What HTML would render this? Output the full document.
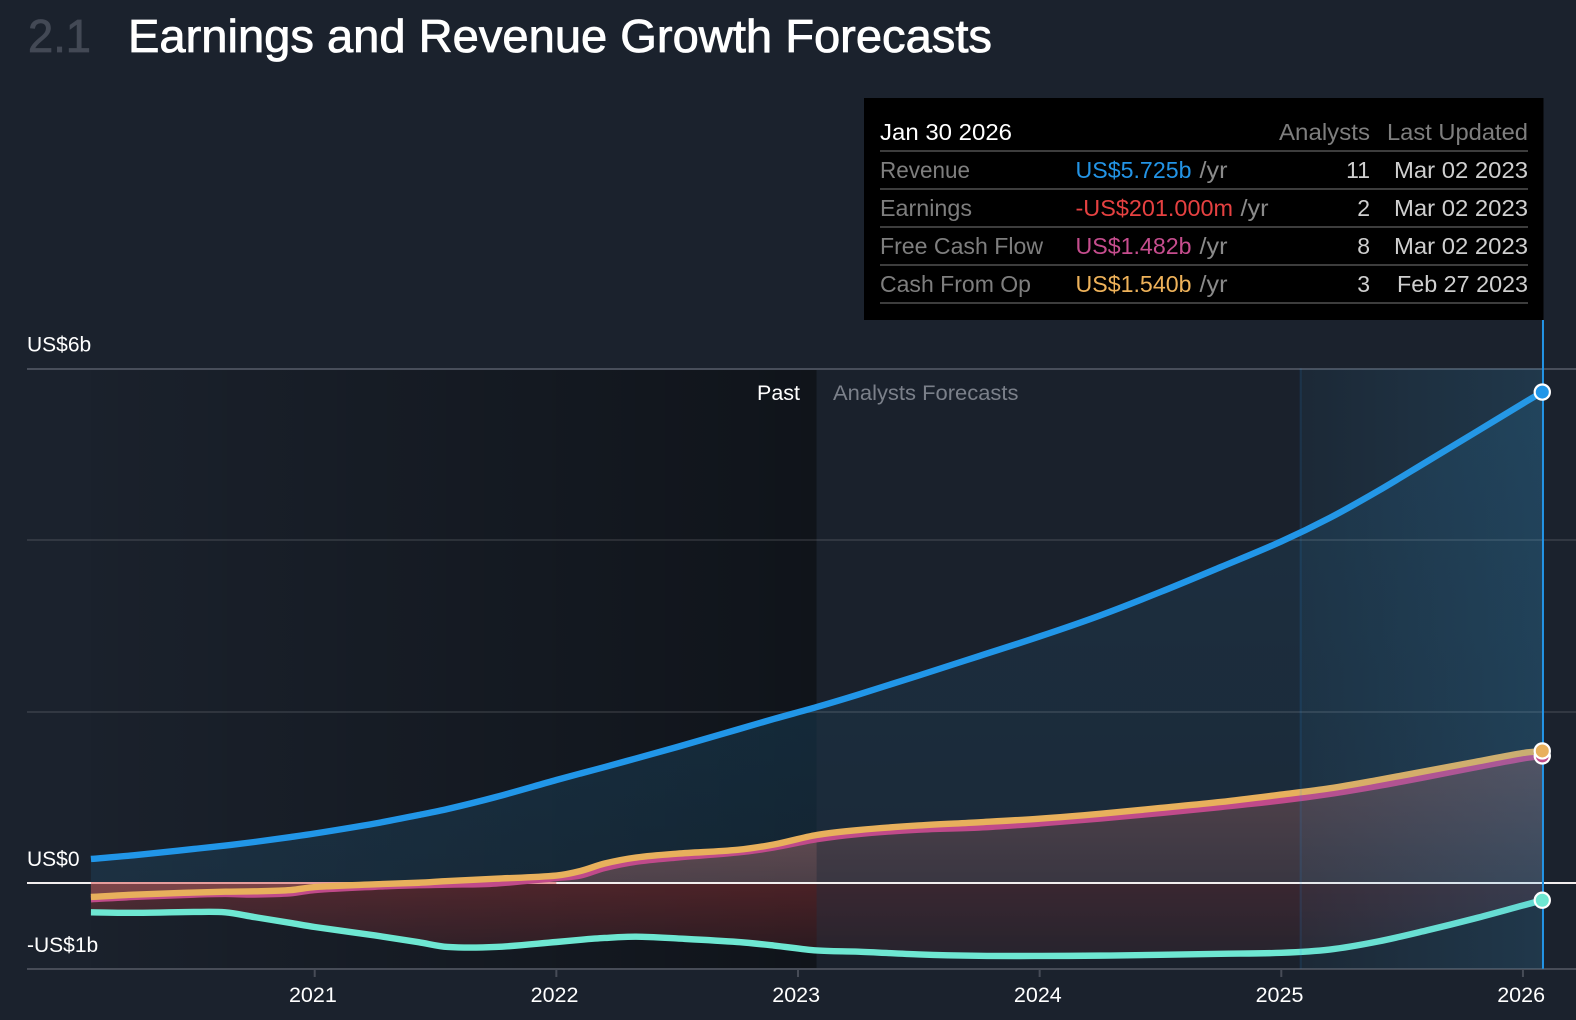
<!DOCTYPE html>
<html lang="en">
<head>
<meta charset="utf-8">
<title>Earnings and Revenue Growth Forecasts</title>
<style>
  html, body { margin: 0; padding: 0; background: #1b222d; width: 1576px; height: 1020px; overflow: hidden; }
  svg { display: block; font-family: "Liberation Sans", Arial, sans-serif; }
  .lbl { fill: #7e7e7e; font-size: 23px; }
  .num { fill: #cfcfcf; font-size: 23px; }
  .unit { fill: #8a8a8a; font-size: 23px; }
</style>
</head>
<body>
<svg id="chart" xmlns="http://www.w3.org/2000/svg" width="1576" height="1020" viewBox="0 0 1576 1020">
  <defs>
    <linearGradient id="pastGrad" gradientUnits="userSpaceOnUse" x1="91" y1="0" x2="817" y2="0">
      <stop offset="0" stop-color="#000" stop-opacity="0.03"/>
      <stop offset="1" stop-color="#000" stop-opacity="0.42"/>
    </linearGradient>
    <linearGradient id="blueGrad" gradientUnits="userSpaceOnUse" x1="0" y1="369" x2="0" y2="883">
      <stop offset="0" stop-color="#2a9ee0" stop-opacity="0.22"/>
      <stop offset="1" stop-color="#2a9ee0" stop-opacity="0.12"/>
    </linearGradient>
    <linearGradient id="redGrad" gradientUnits="userSpaceOnUse" x1="0" y1="883" x2="0" y2="956">
      <stop offset="0" stop-color="#ff4a4a" stop-opacity="0.25"/>
      <stop offset="1" stop-color="#ff4a4a" stop-opacity="0.10"/>
    </linearGradient>
    <linearGradient id="pinkGrad" gradientUnits="userSpaceOnUse" x1="0" y1="750" x2="0" y2="883">
      <stop offset="0" stop-color="#ff938a" stop-opacity="0.48"/>
      <stop offset="1" stop-color="#ff938a" stop-opacity="0.24"/>
    </linearGradient>
    <linearGradient id="bandGrad" gradientUnits="userSpaceOnUse" x1="1301" y1="0" x2="1543" y2="0">
      <stop offset="0" stop-color="#3aa0d8" stop-opacity="0.06"/>
      <stop offset="1" stop-color="#3aa0d8" stop-opacity="0.18"/>
    </linearGradient>
  </defs>
  <rect x="0" y="0" width="1576" height="1020" fill="#1b222d"/>
  <g id="plot"></g>

  <text x="28" y="52" font-size="46" fill="#434955" stroke="#434955" stroke-width="0.8" textLength="63" lengthAdjust="spacingAndGlyphs">2.1</text>
  <text x="128" y="52" font-size="46" fill="#ffffff" stroke="#ffffff" stroke-width="0.8" textLength="864" lengthAdjust="spacingAndGlyphs">Earnings and Revenue Growth Forecasts</text>

  <text x="757" y="400" font-size="21" fill="#ffffff" textLength="43" lengthAdjust="spacingAndGlyphs">Past</text>
  <text x="833" y="400" font-size="21" fill="#7b808a" textLength="185.5" lengthAdjust="spacingAndGlyphs">Analysts Forecasts</text>

  <g>
    <rect x="864" y="98" width="679.5" height="222" fill="#000000"/>
    <text x="880" y="140" font-size="23" fill="#ffffff" textLength="132" lengthAdjust="spacingAndGlyphs">Jan 30 2026</text>
    <text class="lbl" x="1279" y="140" textLength="91" lengthAdjust="spacingAndGlyphs">Analysts</text>
    <text class="lbl" x="1387" y="140" textLength="141" lengthAdjust="spacingAndGlyphs">Last Updated</text>
    <rect x="880" y="150" width="648" height="2" fill="#3d3d3d"/>

    <text class="lbl" x="880" y="178" textLength="90" lengthAdjust="spacingAndGlyphs">Revenue</text>
    <text x="1075.5" y="178" font-size="23" fill="#2394e6" textLength="116" lengthAdjust="spacingAndGlyphs">US$5.725b</text>
    <text class="unit" x="1199.5" y="178" textLength="28" lengthAdjust="spacingAndGlyphs">/yr</text>
    <text class="num" x="1370" y="178" text-anchor="end">11</text>
    <text class="num" x="1394" y="178" textLength="134" lengthAdjust="spacingAndGlyphs">Mar 02 2023</text>
    <rect x="880" y="188" width="648" height="2" fill="#3d3d3d"/>

    <text class="lbl" x="880" y="216" textLength="92" lengthAdjust="spacingAndGlyphs">Earnings</text>
    <text x="1075.5" y="216" font-size="23" fill="#e64141" textLength="157.5" lengthAdjust="spacingAndGlyphs">-US$201.000m</text>
    <text class="unit" x="1240.5" y="216" textLength="28" lengthAdjust="spacingAndGlyphs">/yr</text>
    <text class="num" x="1370" y="216" text-anchor="end">2</text>
    <text class="num" x="1394" y="216" textLength="134" lengthAdjust="spacingAndGlyphs">Mar 02 2023</text>
    <rect x="880" y="226" width="648" height="2" fill="#3d3d3d"/>

    <text class="lbl" x="880" y="254" textLength="163" lengthAdjust="spacingAndGlyphs">Free Cash Flow</text>
    <text x="1075.5" y="254" font-size="23" fill="#c64d8e" textLength="116" lengthAdjust="spacingAndGlyphs">US$1.482b</text>
    <text class="unit" x="1199.5" y="254" textLength="28" lengthAdjust="spacingAndGlyphs">/yr</text>
    <text class="num" x="1370" y="254" text-anchor="end">8</text>
    <text class="num" x="1394" y="254" textLength="134" lengthAdjust="spacingAndGlyphs">Mar 02 2023</text>
    <rect x="880" y="264" width="648" height="2" fill="#3d3d3d"/>

    <text class="lbl" x="880" y="292" textLength="151" lengthAdjust="spacingAndGlyphs">Cash From Op</text>
    <text x="1075.5" y="292" font-size="23" fill="#eeb25a" textLength="116" lengthAdjust="spacingAndGlyphs">US$1.540b</text>
    <text class="unit" x="1199.5" y="292" textLength="28" lengthAdjust="spacingAndGlyphs">/yr</text>
    <text class="num" x="1370" y="292" text-anchor="end">3</text>
    <text class="num" x="1397" y="292" textLength="131" lengthAdjust="spacingAndGlyphs">Feb 27 2023</text>
    <rect x="880" y="302" width="648" height="2" fill="#3d3d3d"/>
  </g>
</svg>

<script>
// Chart data (dates in fractional years, values in US$ billions)
const dates = [2020.074, 2020.25, 2020.5, 2020.63, 2020.75, 2020.9, 2021, 2021.25, 2021.43, 2021.55, 2021.75, 2022, 2022.1, 2022.2, 2022.33, 2022.5, 2022.75, 2022.9, 2023.077, 2023.25, 2023.5, 2023.75, 2024, 2024.25, 2024.5, 2024.75, 2025, 2025.2, 2025.4, 2025.6, 2025.8, 2026, 2026.08];
const revenue = [0.280, 0.323, 0.397, 0.437, 0.478, 0.536, 0.577, 0.694, 0.793, 0.863, 1.003, 1.201, 1.277, 1.352, 1.453, 1.586, 1.790, 1.913, 2.052, 2.198, 2.420, 2.647, 2.875, 3.120, 3.394, 3.685, 3.983, 4.257, 4.571, 4.910, 5.250, 5.592, 5.725];
const cashFromOp = [-0.163, -0.136, -0.111, -0.101, -0.097, -0.082, -0.047, -0.015, 0.003, 0.023, 0.050, 0.087, 0.140, 0.227, 0.297, 0.342, 0.387, 0.449, 0.560, 0.618, 0.671, 0.708, 0.750, 0.807, 0.875, 0.945, 1.031, 1.104, 1.201, 1.306, 1.411, 1.516, 1.540];
const freeCashFlow = [-0.190, -0.163, -0.136, -0.128, -0.134, -0.120, -0.082, -0.044, -0.026, -0.020, -0.006, 0.058, 0.087, 0.175, 0.248, 0.297, 0.356, 0.414, 0.510, 0.571, 0.622, 0.647, 0.694, 0.752, 0.816, 0.886, 0.962, 1.038, 1.131, 1.236, 1.347, 1.452, 1.482];
const earnings = [-0.342, -0.348, -0.338, -0.342, -0.397, -0.466, -0.513, -0.612, -0.690, -0.746, -0.746, -0.688, -0.662, -0.641, -0.626, -0.647, -0.688, -0.729, -0.787, -0.801, -0.833, -0.849, -0.851, -0.847, -0.837, -0.826, -0.814, -0.776, -0.682, -0.554, -0.414, -0.262, -0.201];
const xTickYears = [2021, 2022, 2023, 2024, 2025, 2026];
const xTickLabels = ['2021', '2022', '2023', '2024', '2025', '2026'];
const minorGridValues = [4, 2];
const yLabelValues = [6, 0, -1];
const yLabelTexts = ['US$6b', 'US$0', '-US$1b'];
const pastEndDate = 2023.077;
const bandStartDate = 2025.08;

const NS = 'http://www.w3.org/2000/svg';
const plot = document.getElementById('plot');
const xPx = function (t) { return 314.7 + (t - 2021) * 241.65; };
const yPx = function (v) { return 883 - v * 85.75; };

function make(tag, attrs) {
  const el = document.createElementNS(NS, tag);
  for (const k in attrs) el.setAttribute(k, attrs[k]);
  plot.appendChild(el);
  return el;
}
function curve(vals) {
  const p = vals.map(function (v, i) { return [xPx(dates[i]), yPx(v)]; });
  let d = 'M' + p[0][0].toFixed(2) + ' ' + p[0][1].toFixed(2);
  for (let i = 0; i < p.length - 1; i++) {
    const a = p[Math.max(i - 1, 0)], b = p[i], c = p[i + 1], e = p[Math.min(i + 2, p.length - 1)];
    const h = c[0] - b[0];
    const m1 = (c[1] - a[1]) / ((c[0] - a[0]) || 1);
    const m2 = (e[1] - b[1]) / ((e[0] - b[0]) || 1);
    d += 'C' + (b[0] + h / 3).toFixed(2) + ' ' + (b[1] + m1 * h / 3).toFixed(2) + ' ' +
         (c[0] - h / 3).toFixed(2) + ' ' + (c[1] - m2 * h / 3).toFixed(2) + ' ' +
         c[0].toFixed(2) + ' ' + c[1].toFixed(2);
  }
  return d;
}
function area(vals) {
  const x0 = xPx(dates[0]).toFixed(2), x1 = xPx(dates[dates.length - 1]).toFixed(2), y0 = yPx(0);
  return curve(vals) + 'L' + x1 + ' ' + y0 + 'L' + x0 + ' ' + y0 + 'Z';
}

const startX = xPx(dates[0]);
const endX = xPx(dates[dates.length - 1]);
const plotTop = yPx(6);
const plotBottom = yPx(-1);

// past shading
const pastShade = make('rect', { x: startX, y: plotTop, width: xPx(pastEndDate) - startX, height: plotBottom - plotTop, fill: 'url(#pastGrad)' });



// area fills
const revenueArea = make('path', { d: area(revenue), fill: 'url(#blueGrad)' });



const earningsArea = make('path', { d: area(earnings), fill: 'url(#redGrad)' });



const fcfArea = make('path', { d: area(freeCashFlow), fill: 'url(#pinkGrad)' });



// forecast veil dims fills right of the past boundary
const veil = make('rect', { x: xPx(pastEndDate), y: plotTop, width: endX - xPx(pastEndDate), height: plotBottom - plotTop, fill: '#1b222d', 'fill-opacity': 0.45 });



// gridlines
const topGrid = make('rect', { x: 27, y: Math.round(yPx(6)) - 1, width: 1549, height: 2, fill: '#484e5a' });


minorGridValues.forEach(function (v) {
  const g = make('rect', { x: 27, y: Math.round(yPx(v)) - 1, width: 1549, height: 2, fill: '#ffffff', 'fill-opacity': 0.1 });
  
  
});
const xAxis = make('rect', { x: 27, y: Math.round(yPx(-1)) - 1, width: 1549, height: 2, fill: '#474c57' });



// zero line
const zeroLine = make('rect', { x: 27, y: yPx(0) - 1, width: 1549, height: 2, fill: '#f2eeee' });


let crossIdx = 0;
while (crossIdx < freeCashFlow.length - 1 && freeCashFlow[crossIdx] < 0) crossIdx++;
const zeroTint = make('rect', { x: startX, y: yPx(0) - 1, width: xPx(dates[crossIdx]) - startX, height: 2, fill: '#e69c9c' });



// series lines
const lineAttrs = { fill: 'none', 'stroke-width': 6.4, 'stroke-linejoin': 'round', 'stroke-linecap': 'butt' };
const earningsLine = make('path', Object.assign({ d: curve(earnings), stroke: '#6ee7d2' }, lineAttrs));



const fcfLine = make('path', Object.assign({ d: curve(freeCashFlow), stroke: '#c04a8a' }, lineAttrs));



const cfoLine = make('path', Object.assign({ d: curve(cashFromOp), stroke: '#e8b05c' }, lineAttrs));



const revenueLine = make('path', Object.assign({ d: curve(revenue), stroke: '#2196e8' }, lineAttrs));



// latest-year highlight band
const band = make('rect', { x: xPx(bandStartDate), y: plotTop, width: endX + 1 - xPx(bandStartDate), height: plotBottom - plotTop, fill: 'url(#bandGrad)' });


const bandEdge = make('rect', { x: xPx(bandStartDate) - 1, y: plotTop, width: 2, height: plotBottom - plotTop, fill: '#2196f3', 'fill-opacity': 0.14 });



// hover cursor
const cursor = make('rect', { x: endX - 0.3, y: 320, width: 2, height: plotBottom - 320, fill: '#2394e6' });



// end markers
const last = dates.length - 1;
const dotEarn = make('circle', { cx: endX, cy: yPx(earnings[last]), r: 7.6, fill: '#6ee7d2', stroke: '#ffffff', 'stroke-width': 2.2 });


const dotFcf = make('circle', { cx: endX, cy: yPx(freeCashFlow[last]), r: 7.6, fill: '#c04a8a', stroke: '#ffffff', 'stroke-width': 2.2 });


const dotCfo = make('circle', { cx: endX, cy: yPx(cashFromOp[last]), r: 7.6, fill: '#e8b05c', stroke: '#ffffff', 'stroke-width': 2.2 });


const dotRev = make('circle', { cx: endX, cy: yPx(revenue[last]), r: 7.6, fill: '#2196e8', stroke: '#ffffff', 'stroke-width': 2.2 });



// x ticks and labels
xTickYears.forEach(function (yr, i) {
  const tick = make('rect', { x: xPx(yr) - 1, y: Math.round(yPx(-1)), width: 2, height: 8, fill: '#474c57' });
  
  
  const t = make('text', { x: xPx(yr) - 1.8, y: 1002, 'text-anchor': 'middle', 'font-size': 21.5, fill: '#ffffff' });
  t.textContent = xTickLabels[i];
  
  
});

// y labels sit above their value level
yLabelValues.forEach(function (v, i) {
  const t = make('text', { x: 27, y: yPx(v) - 17, 'font-size': 21, fill: '#ffffff' });
  t.textContent = yLabelTexts[i];
  
  
});
</script>
</body>
</html>
